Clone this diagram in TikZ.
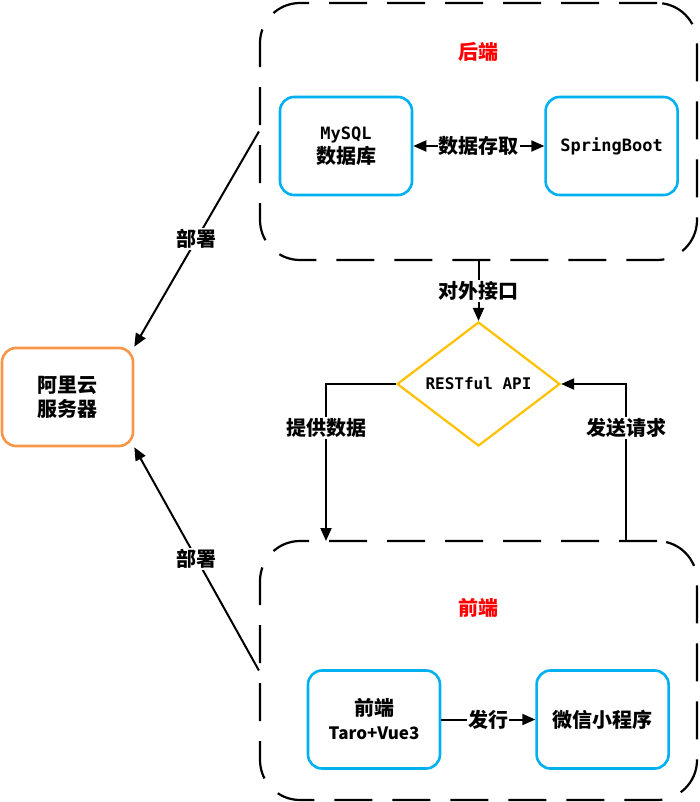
\documentclass[tikz,border=0pt]{standalone}
\usepackage{fontspec}
\setmainfont{Noto Sans CJK SC}
\newfontfamily\codefont{DejaVu Sans Mono}
\usepackage{xcolor}
\usepackage{tikz}
\usetikzlibrary{arrows.meta,
positioning,
shapes.geometric}

\definecolor{boxblue}{RGB}{0,176,240}
\definecolor{boxorange}{RGB}{247,150,70}
\definecolor{apiyellow}{RGB}{255,192,0}

\begin{document}
\begin{tikzpicture}[
x=1pt, y=-1pt,
>={Triangle[length=13pt,width=11pt]},
line width=2pt,
group/.style={
draw,
dash pattern=on 38pt off 20pt,
rounded corners=40pt,
line width=2.2pt,
minimum width=437pt
},
block/.style={
draw=boxblue,
line width=2.6pt,
rounded corners=14pt,
align=center,
minimum width=132pt,
minimum height=98pt,
font=\fontsize{20}{24}\selectfont\bfseries
},
title/.style={
text=red,
font=\fontsize{20}{24}\selectfont\bfseries
},
tag/.style={
fill=white,
inner sep=1pt,
font=\fontsize{20}{24}\selectfont\bfseries
}
]

\useasboundingbox (0,0) rectangle (699,802);

% Containers
\node[group, minimum height=257pt] (backend) at (478.5,131.5) {};
\node[group, minimum height=259pt] (frontend) at (478.5,670.5) {};

\node[title] (betitle) at (478.5,52) {后端};
\node[title] (fetitle) at (478.5,608) {前端};

% Backend row
\node[block] (mysql) at (346,146) {{\codefont\bfseries\fontsize{17}{24}\selectfont MySQL}\\数据库};
\node[block, right=131pt of mysql] (spring) {\codefont\bfseries\fontsize{17}{24}\selectfont SpringBoot};

% Interface
\node[draw=apiyellow, line width=2.2pt, diamond, aspect=1.31,
minimum width=163pt, minimum height=124pt, inner sep=0pt,
font=\codefont\bfseries\fontsize{16}{20}\selectfont] (api) at (478.5,384) {RESTful API};

% Frontend row
\node[block] (taro) at (374,719.5) {前端\\{\fontsize{17}{24}\selectfont Taro+Vue3}};
\node[block, right=94pt of taro] (wechat) {微信小程序};

% Server
\node[block, draw=boxorange, minimum width=131pt] (aliyun) at (67.5,397) {阿里云\\服务器};

\coordinate (feIn) at (326,541);
\coordinate (feOut) at (626,541);

% Connections
\draw[<->] (mysql) -- node[tag] {数据存取} (spring);
\draw[->] (taro) -- node[tag] {发行} (wechat);

\draw[->] (backend.south) -- node[tag] {对外接口} (api.north);
\draw[->] (api.west) -| node[tag, pos=0.64] {提供数据} (feIn);
\draw[->] (feOut) |- node[tag, pos=0.36] {发送请求} (api.east);

\draw[->] (backend.west) -- node[tag] {部署} (aliyun.north east);
\draw[->] (frontend.west) -- node[tag] {部署} (aliyun.south east);

\end{tikzpicture}
\end{document}
